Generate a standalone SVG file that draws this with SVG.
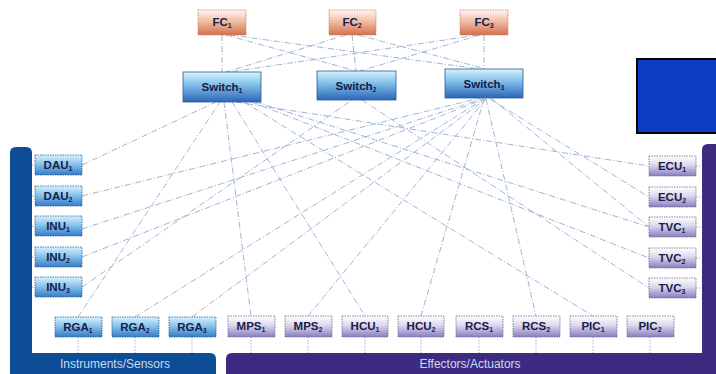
<svg xmlns="http://www.w3.org/2000/svg" width="716" height="374" viewBox="0 0 716 374">
<defs>
<linearGradient id="gFC" x1="0" y1="0" x2="0" y2="1"><stop offset="0" stop-color="#fdf6f2"/><stop offset="0.45" stop-color="#f1bea5"/><stop offset="1" stop-color="#d36f4e"/></linearGradient>
<linearGradient id="gSw" x1="0" y1="0" x2="0" y2="1"><stop offset="0" stop-color="#d8f3fc"/><stop offset="0.4" stop-color="#86c2ea"/><stop offset="1" stop-color="#2a66b8"/></linearGradient>
<linearGradient id="gBl" x1="0" y1="0" x2="0" y2="1"><stop offset="0" stop-color="#d6f1fb"/><stop offset="0.45" stop-color="#88c4ec"/><stop offset="1" stop-color="#357bc8"/></linearGradient>
<linearGradient id="gPu" x1="0" y1="0" x2="0" y2="1"><stop offset="0" stop-color="#ffffff"/><stop offset="0.45" stop-color="#dcd6ee"/><stop offset="1" stop-color="#8a7cc0"/></linearGradient>
<style>
.fc{fill:url(#gFC);stroke:#b9846f;stroke-width:0.8;stroke-dasharray:1.5 1}
.sw{fill:url(#gSw);stroke:#2b5b9c;stroke-width:0.8}
.bl{fill:url(#gBl);stroke:#2b5b9c;stroke-width:0.8;stroke-dasharray:1.5 1}
.pu{fill:url(#gPu);stroke:#6b6a8a;stroke-width:0.8;stroke-dasharray:1.5 1}
.t{font-family:"Liberation Sans",Arial,sans-serif;font-weight:bold;font-size:11.5px;fill:#14204a;text-anchor:middle}
.s{font-size:7px}
.lbl{font-family:"Liberation Sans",Arial,sans-serif;font-size:12px;fill:#c9dbf0;text-anchor:middle}
.c line{stroke:#8ea6cc;stroke-width:0.85;stroke-dasharray:6 2 1 2;fill:none}
.st line{stroke:#8a9cbf;stroke-width:0.8;stroke-dasharray:1.5 1.5}
</style>
</defs>
<rect width="716" height="374" fill="#ffffff"/>

<!-- panels -->
<path id="panel-sensors" d="M10,153 Q10,147 16,147 L26,147 Q32,147 32,153 L32,353 L210,353 Q216,353 216,359 L216,374 L10,374 Z" fill="#0d4d95"/>
<path id="panel-effectors" d="M226,374 L226,359 Q226,353 232,353 L702,353 L702,150 Q702,144 708,144 L716,144 L716,374 Z" fill="#3d2b7f"/>
<text class="lbl" x="115" y="368">Instruments/Sensors</text>
<text class="lbl" x="470" y="368">Effectors/Actuators</text>
<rect x="637" y="59" width="92" height="74" fill="#0b3ec4" stroke="#000000" stroke-width="2"/>

<!-- connectors -->
<g id="connectors" class="c">
<line x1="222" y1="35" x2="222" y2="72"/>
<line x1="352" y1="35" x2="356" y2="71"/>
<line x1="484" y1="35" x2="484" y2="69"/>
<line x1="226" y1="35" x2="356" y2="71"/>
<line x1="230" y1="35" x2="480" y2="69"/>
<line x1="346" y1="35" x2="226" y2="72"/>
<line x1="358" y1="35" x2="486" y2="69"/>
<line x1="478" y1="35" x2="230" y2="72"/>
<line x1="480" y1="35" x2="360" y2="71"/>

<line x1="82" y1="165" x2="216" y2="102"/>
<line x1="82" y1="196" x2="480" y2="98"/>
<line x1="82" y1="229" x2="482" y2="99"/>
<line x1="82" y1="257" x2="484" y2="99"/>
<line x1="82" y1="287" x2="352" y2="100"/>
<line x1="78" y1="317" x2="220" y2="102"/>
<line x1="135" y1="317" x2="484" y2="99"/>
<line x1="192" y1="317" x2="486" y2="99"/>
<line x1="224" y1="102" x2="251" y2="316"/>
<line x1="308" y1="316" x2="486" y2="99"/>
<line x1="232" y1="102" x2="365" y2="316"/>
<line x1="484" y1="99" x2="421" y2="316"/>
<line x1="486" y1="99" x2="536" y2="316"/>
<line x1="244" y1="102" x2="593" y2="316"/>
<line x1="236" y1="102" x2="649" y2="166"/>
<line x1="490" y1="99" x2="649" y2="197"/>
<line x1="256" y1="102" x2="649" y2="227"/>
<line x1="492" y1="99" x2="649" y2="227"/>
<line x1="362" y1="100" x2="649" y2="288"/>
<line x1="252" y1="102" x2="649" y2="258"/>
</g>

<!-- stubs -->
<g id="stubs" class="st">
<line x1="32" y1="165" x2="35" y2="165"/>
<line x1="32" y1="196" x2="35" y2="196"/>
<line x1="32" y1="226" x2="35" y2="226"/>
<line x1="32" y1="257" x2="35" y2="257"/>
<line x1="32" y1="287" x2="35" y2="287"/>
<line x1="78" y1="337" x2="78" y2="353"/>
<line x1="135" y1="337" x2="135" y2="353"/>
<line x1="192" y1="337" x2="192" y2="353"/>
<line x1="251" y1="337" x2="251" y2="353"/>
<line x1="308" y1="337" x2="308" y2="353"/>
<line x1="365" y1="337" x2="365" y2="353"/>
<line x1="421" y1="337" x2="421" y2="353"/>
<line x1="479" y1="337" x2="479" y2="353"/>
<line x1="536" y1="337" x2="536" y2="353"/>
<line x1="593" y1="337" x2="593" y2="353"/>
<line x1="650" y1="337" x2="650" y2="353"/>
<line x1="696" y1="166" x2="702" y2="166"/>
<line x1="696" y1="197" x2="702" y2="197"/>
<line x1="696" y1="227" x2="702" y2="227"/>
<line x1="696" y1="258" x2="702" y2="258"/>
<line x1="696" y1="288" x2="702" y2="288"/>
</g>

<!-- flight computers -->
<g id="FC1"><rect class="fc" x="198" y="10" width="48" height="25"/><text class="t" x="222" y="26">FC<tspan class="s" dy="2">1</tspan></text></g>
<g id="FC2"><rect class="fc" x="329" y="10" width="47" height="25"/><text class="t" x="352" y="26">FC<tspan class="s" dy="2">2</tspan></text></g>
<g id="FC3"><rect class="fc" x="460" y="10" width="48" height="25"/><text class="t" x="484" y="26">FC<tspan class="s" dy="2">3</tspan></text></g>

<!-- switches -->
<g id="Switch1"><rect class="sw" x="183" y="72" width="78" height="30"/><text class="t" x="222" y="91">Switch<tspan class="s" dy="2">1</tspan></text></g>
<g id="Switch2"><rect class="sw" x="317" y="71" width="79" height="29"/><text class="t" x="356" y="90">Switch<tspan class="s" dy="2">2</tspan></text></g>
<g id="Switch3"><rect class="sw" x="445" y="69" width="78" height="29"/><text class="t" x="484" y="88">Switch<tspan class="s" dy="2">3</tspan></text></g>

<!-- sensors -->
<g id="DAU1"><rect class="bl" x="35" y="155" width="47" height="20"/><text class="t" x="58" y="169">DAU<tspan class="s" dy="2">1</tspan></text></g>
<g id="DAU2"><rect class="bl" x="35" y="186" width="47" height="20"/><text class="t" x="58" y="200">DAU<tspan class="s" dy="2">2</tspan></text></g>
<g id="INU1"><rect class="bl" x="35" y="216" width="47" height="20"/><text class="t" x="58" y="230">INU<tspan class="s" dy="2">1</tspan></text></g>
<g id="INU2"><rect class="bl" x="35" y="247" width="47" height="20"/><text class="t" x="58" y="261">INU<tspan class="s" dy="2">2</tspan></text></g>
<g id="INU3"><rect class="bl" x="35" y="277" width="47" height="20"/><text class="t" x="58" y="291">INU<tspan class="s" dy="2">3</tspan></text></g>
<g id="RGA1"><rect class="bl" x="55" y="317" width="47" height="20"/><text class="t" x="78" y="331">RGA<tspan class="s" dy="2">1</tspan></text></g>
<g id="RGA2"><rect class="bl" x="112" y="317" width="47" height="20"/><text class="t" x="135" y="331">RGA<tspan class="s" dy="2">2</tspan></text></g>
<g id="RGA3"><rect class="bl" x="169" y="317" width="47" height="20"/><text class="t" x="192" y="331">RGA<tspan class="s" dy="2">3</tspan></text></g>

<!-- effectors -->
<g id="MPS1"><rect class="pu" x="228" y="316" width="47" height="21"/><text class="t" x="251" y="330">MPS<tspan class="s" dy="2">1</tspan></text></g>
<g id="MPS2"><rect class="pu" x="285" y="316" width="47" height="21"/><text class="t" x="308" y="330">MPS<tspan class="s" dy="2">2</tspan></text></g>
<g id="HCU1"><rect class="pu" x="342" y="316" width="46" height="21"/><text class="t" x="365" y="330">HCU<tspan class="s" dy="2">1</tspan></text></g>
<g id="HCU2"><rect class="pu" x="398" y="316" width="46" height="21"/><text class="t" x="421" y="330">HCU<tspan class="s" dy="2">2</tspan></text></g>
<g id="RCS1"><rect class="pu" x="456" y="316" width="47" height="21"/><text class="t" x="479" y="330">RCS<tspan class="s" dy="2">1</tspan></text></g>
<g id="RCS2"><rect class="pu" x="513" y="316" width="47" height="21"/><text class="t" x="536" y="330">RCS<tspan class="s" dy="2">2</tspan></text></g>
<g id="PIC1"><rect class="pu" x="570" y="316" width="47" height="21"/><text class="t" x="593" y="330">PIC<tspan class="s" dy="2">1</tspan></text></g>
<g id="PIC2"><rect class="pu" x="627" y="316" width="47" height="21"/><text class="t" x="650" y="330">PIC<tspan class="s" dy="2">2</tspan></text></g>
<g id="ECU1"><rect class="pu" x="649" y="156" width="47" height="20"/><text class="t" x="672" y="170">ECU<tspan class="s" dy="2">1</tspan></text></g>
<g id="ECU2"><rect class="pu" x="649" y="187" width="47" height="20"/><text class="t" x="672" y="201">ECU<tspan class="s" dy="2">2</tspan></text></g>
<g id="TVC1"><rect class="pu" x="649" y="217" width="47" height="20"/><text class="t" x="672" y="231">TVC<tspan class="s" dy="2">1</tspan></text></g>
<g id="TVC2"><rect class="pu" x="649" y="248" width="47" height="20"/><text class="t" x="672" y="262">TVC<tspan class="s" dy="2">2</tspan></text></g>
<g id="TVC3"><rect class="pu" x="649" y="278" width="47" height="20"/><text class="t" x="672" y="292">TVC<tspan class="s" dy="2">3</tspan></text></g>
</svg>
